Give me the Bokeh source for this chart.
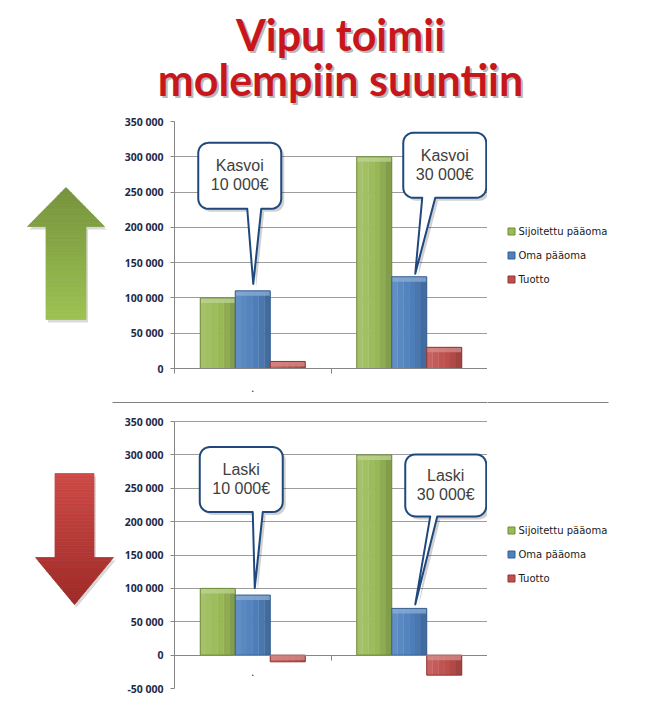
import math
from bokeh.plotting import figure
from bokeh.layouts import column, row
from bokeh.models import ColumnDataSource, Range1d, FixedTicker
from bokeh.core.properties import value
from bokeh.embed import file_html
from bokeh.resources import INLINE

# ---------------- data ----------------
title_lines = ["Vipu toimii", "molempiin suuntiin"]
categories = ["Tilanne 1", "Tilanne 2"]
category_labels = [".", ""]
series_names = ["Sijoitettu pääoma", "Oma pääoma", "Tuotto"]

up_sijoitettu = [100000, 300000]
up_oma = [110000, 130000]
up_tuotto = [10000, 30000]

down_sijoitettu = [100000, 300000]
down_oma = [90000, 70000]
down_tuotto = [-10000, -30000]

up_ticks = [0, 50000, 100000, 150000, 200000, 250000, 300000, 350000]
up_tick_labels = ["0", "50 000", "100 000", "150 000", "200 000", "250 000", "300 000", "350 000"]
down_ticks = [-50000, 0, 50000, 100000, 150000, 200000, 250000, 300000, 350000]
down_tick_labels = ["-50 000", "0", "50 000", "100 000", "150 000", "200 000", "250 000", "300 000", "350 000"]

up_callouts = [["Kasvoi", "10 000€"], ["Kasvoi", "30 000€"]]
down_callouts = [["Laski", "10 000€"], ["Laski", "30 000€"]]

# ---------------- styles ----------------
FILL = ["#9BBB59", "#4F81BD", "#C0504D"]
EDGE = ["#6E8A37", "#36608F", "#8E3634"]
AXIS_GRAY = "#868686"
GRID_GRAY = "#9C9C9C"
SEP_GRAY = "#808080"
TICK_COLOR = "#1E2A48"
BAR_W = 0.2236
OFFSETS = [-BAR_W, 0.0, BAR_W]

FRAME_W = 313
X_PX = FRAME_W / 2.0
LEFT_B = 54
CHART_X0 = 174          # page x of the chart frame's left edge
SEP_X0, SEP_X1 = 112, 608
SEP_Y = 402             # page y of the separator line


def hex2rgb(c):
    return [int(c[i:i + 2], 16) for i in (1, 3, 5)]


def shade(c, f):
    rgb = hex2rgb(c)
    if f >= 1:
        out = [v + (255 - v) * (f - 1) for v in rgb]
    else:
        out = [v * f for v in rgb]
    return "#%02x%02x%02x" % tuple(max(0, min(255, int(round(v)))) for v in out)


def base_fig(w, h, xr, yr, top_b=0, bot_b=0):
    f = figure(frame_width=w, frame_height=h, x_range=xr, y_range=yr, output_backend="svg",
               toolbar_location=None, x_axis_type=None, y_axis_type=None, title=None,
               min_border_left=0, min_border_right=0,
               min_border_top=top_b, min_border_bottom=bot_b)
    f.outline_line_color = None
    f.xgrid.visible = False
    f.ygrid.visible = False
    return f


def rounded_callout(L, R, T, B, tl, tr, r=10, n=6):
    pts = [(L + r, T), (R - r, T)]
    for i in range(1, n + 1):
        a = -math.pi / 2 + (math.pi / 2) * i / n
        pts.append((R - r + r * math.cos(a), T + r + r * math.sin(a)))
    pts.append((R, B - r))
    for i in range(1, n + 1):
        a = (math.pi / 2) * i / n
        pts.append((R - r + r * math.cos(a), B - r + r * math.sin(a)))
    pts += [(tr, B), (0.0, 0.0), (tl, B), (L + r, B)]
    for i in range(1, n + 1):
        a = math.pi / 2 + (math.pi / 2) * i / n
        pts.append((L + r + r * math.cos(a), B - r + r * math.sin(a)))
    pts.append((L, T + r))
    for i in range(1, n + 1):
        a = math.pi + (math.pi / 2) * i / n
        pts.append((L + r + r * math.cos(a), T + r + r * math.sin(a)))
    return pts


SLICE_SHADES = [1.10, 1.06, 1.02, 0.98, 0.92, 0.84]


def build_chart(series, ticks, tick_labels, data_h, ext_top, top_b, bot_b, callouts, geoms,
                dot_in_frame, sep_from_top=None):
    ylo, yhi = ticks[0], ticks[-1]
    upx = (yhi - ylo) / data_h  # data units per px
    yhi_ext = yhi + ext_top * upx
    p = figure(frame_width=FRAME_W, frame_height=data_h + ext_top,
               x_range=Range1d(0, 2), y_range=Range1d(ylo, yhi_ext),
               output_backend="svg", toolbar_location=None, title=None,
               min_border_left=LEFT_B, min_border_right=0,
               min_border_top=top_b, min_border_bottom=bot_b)
    p.outline_line_color = None

    # y axis
    p.yaxis.ticker = FixedTicker(ticks=ticks)
    p.yaxis.bounds = (ylo, yhi)
    p.yaxis.major_label_overrides = {t: l for t, l in zip(ticks, tick_labels)}
    p.yaxis.axis_line_color = AXIS_GRAY
    p.yaxis.major_tick_line_color = AXIS_GRAY
    p.yaxis.major_tick_out = 4
    p.yaxis.major_tick_in = 0
    p.yaxis.minor_tick_line_color = None
    p.yaxis.major_label_standoff = 7
    p.yaxis.major_label_text_font = "Noto Sans"
    p.yaxis.major_label_text_font_style = "bold"
    p.yaxis.major_label_text_font_size = "10.5px"
    p.yaxis.major_label_text_color = TICK_COLOR
    p.ygrid.ticker = FixedTicker(ticks=ticks)
    p.ygrid.grid_line_color = GRID_GRAY
    p.xgrid.visible = False

    if sep_from_top is not None:
        ys = yhi_ext - sep_from_top * upx
        sr = p.segment(x0=[(SEP_X0 - CHART_X0) / X_PX], y0=[ys],
                       x1=[(SEP_X1 - CHART_X0) / X_PX], y1=[ys],
                       line_color=SEP_GRAY, line_width=1.2)
        sr.level = "overlay"   # let the rule run across the axis margin too

    centers = [i + 0.5 for i in range(len(categories))]
    n_sl = len(SLICE_SHADES)
    for k, vals in enumerate(series):
        for s, f in enumerate(SLICE_SHADES):
            xs = [c + OFFSETS[k] - BAR_W / 2 + BAR_W * (s + 0.5) / n_sl for c in centers]
            p.vbar(x=xs, top=vals, bottom=0, width=BAR_W / n_sl * 1.05,
                   fill_color=shade(FILL[k], f), line_color=None)
        uppers = [max(0, v) for v in vals]
        p.vbar(x=[c + OFFSETS[k] for c in centers], top=uppers,
               bottom=[u - 5 * upx for u in uppers], width=BAR_W,
               fill_color=shade(FILL[k], 1.35), fill_alpha=0.75, line_color=None)
        src = ColumnDataSource(dict(x=[c + OFFSETS[k] for c in centers], top=vals, cat=categories))
        p.vbar(x="x", top="top", bottom=0, width=BAR_W, source=src,
               fill_color=None, line_color=EDGE[k], line_width=1)

    # x (category) axis
    p.xaxis.ticker = FixedTicker(ticks=centers, minor_ticks=[0, 1, 2])
    p.xaxis.axis_line_color = AXIS_GRAY
    p.xaxis.major_tick_line_color = None
    p.xaxis.minor_tick_line_color = AXIS_GRAY
    p.xaxis.minor_tick_out = 5
    p.xaxis.minor_tick_in = 0
    p.xaxis.major_label_text_color = TICK_COLOR
    p.xaxis.major_label_text_font = "Noto Sans"
    if dot_in_frame:
        p.xaxis.fixed_location = 0
        p.xaxis.major_label_overrides = {c: " " for c in centers}
        p.xaxis.major_label_text_font_size = "2px"
        p.xaxis.major_label_standoff = 0
        p.text(x=[centers[0]], y=[-17 * upx], text=[category_labels[0]],
               text_font=value("Noto Sans"), text_font_size="11px",
               text_align="center", text_baseline="middle", text_color=TICK_COLOR)
    else:
        p.xaxis.major_label_overrides = {c: l for c, l in zip(centers, category_labels)}
        p.xaxis.major_label_text_font_size = "11px"
        p.xaxis.major_label_standoff = 9

    # callouts
    for i, (lines, g) in enumerate(zip(callouts, geoms)):
        tdx, tdy, L, R, T, B, tl, tr = g
        tip_x = centers[i] + OFFSETS[1] + tdx / X_PX
        tip_y = series[1][i] - tdy * upx
        pts = rounded_callout(L, R, T, B, tl, tr)
        xs = [tip_x + px / X_PX for px, _ in pts]
        ys = [tip_y - py * upx for _, py in pts]
        p.patch([x + 3 / X_PX for x in xs], [y - 3 * upx for y in ys],
                fill_color="#000000", fill_alpha=0.18, line_color=None)
        p.patch(xs, ys, fill_color="#FFFFFF", line_color="#1F497D", line_width=2,
                line_join="round")
        cx = tip_x + (L + R) / 2 / X_PX
        cy_px = (T + B) / 2
        for txt, off in zip(lines, [-10, 9]):
            p.text(x=[cx], y=[tip_y - (cy_px + off) * upx], text=[txt],
                   text_font=value("Liberation Sans"), text_font_size="16px",
                   text_color="#404040", text_align="center", text_baseline="middle")
    return p


def legend_fig(x0, w, frame_top, frame_h, top_b, bot_b, row_ys, sep=False):
    # pixel-space panel (page coordinates, y grows downward) holding the series key
    f = base_fig(w, frame_h, Range1d(x0, x0 + w), Range1d(frame_top + frame_h, frame_top), top_b, bot_b)
    if sep:
        f.segment(x0=[SEP_X0], y0=[SEP_Y], x1=[SEP_X1], y1=[SEP_Y],
                  line_color=SEP_GRAY, line_width=1.2)
    f.scatter(x=[x0 + 24] * 3, y=row_ys, marker="square", size=7,
              fill_color=FILL, line_color=EDGE, line_width=1)
    f.text(x=[x0 + 31] * 3, y=row_ys, text=series_names,
           text_font=value("DejaVu Sans"), text_font_size="10px",
           text_color="#1A1A1A", text_align="left", text_baseline="middle")
    return f


def arrow_fig(w, frame_top, frame_h, top_b, bot_b, cx, tip_y, base_y, end_y, head_hw, shaft_hw,
              c_top, c_bot, n=36, sep=False):
    f = base_fig(w, frame_h, Range1d(0, w), Range1d(frame_top + frame_h, frame_top), top_b, bot_b)
    if sep:
        f.segment(x0=[SEP_X0], y0=[SEP_Y], x1=[SEP_X1], y1=[SEP_Y],
                  line_color=SEP_GRAY, line_width=1.2)
    outline = [(cx, tip_y), (cx + head_hw, base_y), (cx + shaft_hw, base_y),
               (cx + shaft_hw, end_y), (cx - shaft_hw, end_y), (cx - shaft_hw, base_y),
               (cx - head_hw, base_y)]
    f.patch([x + 2 for x, _ in outline], [y + 3 for _, y in outline],
            fill_color="#000000", fill_alpha=0.15, line_color=None)
    ymin, ymax = min(tip_y, end_y), max(tip_y, end_y)
    a, b = hex2rgb(c_top), hex2rgb(c_bot)

    n_head = 14
    ys_head = [tip_y + (base_y - tip_y) * i / n_head for i in range(n_head + 1)]
    ys_shaft = [base_y + (end_y - base_y) * i / n for i in range(n + 1)]
    xs_all, ys_all, cols = [], [], []
    for seq, is_head in ((ys_head, True), (ys_shaft, False)):
        for y0, y1 in zip(seq[:-1], seq[1:]):
            if is_head:
                h0 = head_hw * abs(y0 - tip_y) / abs(base_y - tip_y)
                h1 = head_hw * abs(y1 - tip_y) / abs(base_y - tip_y)
            else:
                h0 = h1 = shaft_hw
            xs_all.append([cx - h0, cx + h0, cx + h1, cx - h1])
            ys_all.append([y0, y0, y1, y1])
            t = ((y0 + y1) / 2 - ymin) / (ymax - ymin)
            cols.append("#%02x%02x%02x" % tuple(int(round(a[k] + (b[k] - a[k]) * t)) for k in range(3)))
    f.patches(xs_all, ys_all, fill_color=cols, line_color=cols, line_width=0.8)
    return f


# ---------------- title ----------------
title_fig = base_fig(654, 110, Range1d(0, 654), Range1d(110, 0))
for txt, ym in zip(title_lines, [34, 79]):
    title_fig.text(x=[342], y=[ym + 2], text=[txt], text_font=value("Lato"),
                   text_font_style="bold", text_font_size="43px", text_color="#8C8C8C",
                   text_alpha=0.6, text_align="center", text_baseline="middle")
    title_fig.text(x=[340], y=[ym], text=[txt], text_font=value("Lato"),
                   text_font_style="bold", text_font_size="43px", text_color="#C8161D",
                   text_align="center", text_baseline="middle")

# ---------------- top panel (row 110..398, frame 121..368) ----------------
up_geoms = [
    (0.5, -7, -55, 28, -141, -75, -6, 8),
    (6.0, -3, -12, 71, -141, -76, 7, 20),
]
chart_up = build_chart([up_sijoitettu, up_oma, up_tuotto], up_ticks, up_tick_labels,
                       247, 0, 11, 30, up_callouts, up_geoms, dot_in_frame=False)
arrow_up = arrow_fig(120, 121, 247, 11, 30, 65.5, 187, 226, 319, 38.5, 20, "#76923C", "#9DC253")
leg_up = legend_fig(487, 167, 121, 247, 11, 30, [231, 255, 279])

# ---------------- bottom panel (row 398..705, frame 398..688, data part 421..688) ----------------
down_geoms = [
    (2.0, -7, -55, 28, -141, -76, -2, 8),
    (6.0, -4, -10, 71, -150, -88, 15, 22),
]
chart_down = build_chart([down_sijoitettu, down_oma, down_tuotto], down_ticks, down_tick_labels,
                         267, 23, 0, 17, down_callouts, down_geoms, dot_in_frame=True,
                         sep_from_top=SEP_Y - 398)
arrow_down = arrow_fig(120, 398, 290, 0, 17, 74, 604, 557, 473, 39, 19.5, "#CD4A46", "#9E2A27",
                       sep=True)
leg_down = legend_fig(487, 167, 398, 290, 0, 17, [530, 554, 578], sep=True)

layout = column(title_fig, row(arrow_up, chart_up, leg_up),
                row(arrow_down, chart_down, leg_down))

open("out.html", "w").write(file_html(layout, INLINE))
